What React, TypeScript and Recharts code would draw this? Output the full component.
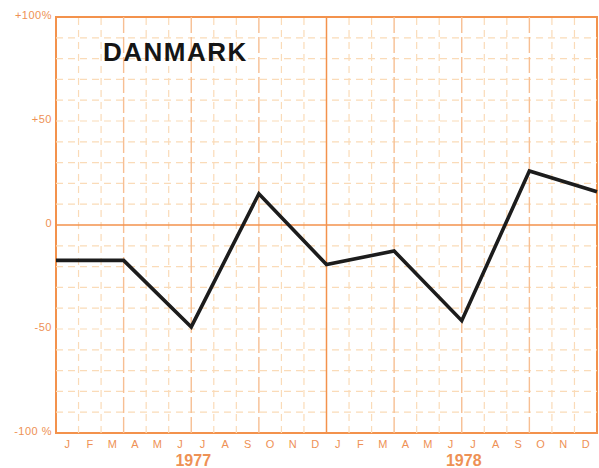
import React from 'react';
import {
  LineChart,
  Line,
  XAxis,
  YAxis,
  ReferenceLine,
  ReferenceArea
} from 'recharts';

// month positions of the plotted points (quarter boundaries, 0 = start of 1977)
const pointMonths = [0, 3, 6, 9, 12, 15, 18, 21, 24];
// change in %
const pointValues = [-17, -17, -49, 15, -19, -12.5, -46, 26, 16];

const monthLabels = [
  'J', 'F', 'M', 'A', 'M', 'J', 'J', 'A', 'S', 'O', 'N', 'D',
  'J', 'F', 'M', 'A', 'M', 'J', 'J', 'A', 'S', 'O', 'N', 'D'
];
const monthTickPos = [
  0.5, 1.5, 2.5, 3.5, 4.5, 5.5, 6.5, 7.5, 8.5, 9.5, 10.5, 11.5,
  12.5, 13.5, 14.5, 15.5, 16.5, 17.5, 18.5, 19.5, 20.5, 21.5, 22.5, 23.5
];
const yearLabels = ['1977', '1978'];
const yearTickPos = [6, 18];

const yTicks = [-100, -50, 0, 50, 100];
const yTickLabels = ['-100 %', '-50', '0', '+50', '+100%'];

const hGridLines = [-90, -80, -70, -60, -50, -40, -30, -20, -10, 10, 20, 30, 40, 50, 60, 70, 80, 90];
const monthGridLines = [1, 2, 4, 5, 7, 8, 10, 11, 13, 14, 16, 17, 19, 20, 22, 23];
const quarterGridLines = [3, 6, 9, 15, 18, 21];

const data = pointMonths.map((m, i) => ({ month: m, value: pointValues[i] }));

const ORANGE = '#f3924c';
const LABEL = '#ee9155';
const MINOR = '#fadbb8';
const QUARTER = '#f7bf93';

const YTick = (props: any) => {
  const { x, y, payload } = props;
  const idx = yTicks.indexOf(payload.value);
  return (
    <text x={x} y={y - 2.5} textAnchor="end" dominantBaseline="central"
      fill={LABEL} fontSize={11} fontFamily="'Liberation Sans', sans-serif" letterSpacing={0.5}>
      {yTickLabels[idx]}
    </text>
  );
};

const MonthTick = (props: any) => {
  const { x, y, payload } = props;
  const idx = Math.floor(payload.value);
  return (
    <text x={x} y={y + 11} textAnchor="middle" dominantBaseline="central"
      fill={LABEL} fontSize={11} fontFamily="'Liberation Sans', sans-serif">
      {monthLabels[idx]}
    </text>
  );
};

const YearTick = (props: any) => {
  const { x, y, payload } = props;
  const idx = yearTickPos.indexOf(payload.value);
  return (
    <text x={x + 2} y={y + 7} textAnchor="middle" dominantBaseline="central"
      fill={LABEL} fontSize={16} fontWeight="bold" fontFamily="'Liberation Sans', sans-serif">
      {yearLabels[idx]}
    </text>
  );
};

export default function App() {
  return (
    <div style={{ position: 'absolute', left: 0, top: 0, width: 599, height: 468, background: '#fff' }}>
      <LineChart width={599} height={468} data={data} margin={{ top: 17, right: 2, left: 0, bottom: 0 }}>
        <XAxis xAxisId="m" dataKey="month" type="number" domain={[0, 24]} ticks={monthTickPos}
          interval={0} axisLine={false} tickLine={false} tickSize={0} tickMargin={0} height={20}
          tick={<MonthTick />} />
        <XAxis xAxisId="yr" dataKey="month" type="number" domain={[0, 24]} ticks={yearTickPos}
          interval={0} axisLine={false} tickLine={false} tickSize={0} tickMargin={0} height={15}
          tick={<YearTick />} />
        <YAxis type="number" domain={[-100, 100]} ticks={yTicks} interval={0} width={56}
          axisLine={false} tickLine={false} tickSize={0} tickMargin={4} tick={<YTick />} />

        {hGridLines.map(v => (
          <ReferenceLine key={'h' + v} xAxisId="m" y={v} stroke={MINOR} strokeWidth={1.2} strokeDasharray="7 5" />
        ))}
        {monthGridLines.map(v => (
          <ReferenceLine key={'m' + v} xAxisId="m" x={v} stroke={MINOR} strokeWidth={1.2} strokeDasharray="7 5" />
        ))}
        {quarterGridLines.map(v => (
          <ReferenceLine key={'q' + v} xAxisId="m" x={v} stroke={QUARTER} strokeWidth={1.4} strokeDasharray="16 4" />
        ))}
        <ReferenceLine xAxisId="m" x={12} stroke={ORANGE} strokeWidth={1.5} />
        <ReferenceLine xAxisId="m" y={0} stroke={ORANGE} strokeWidth={1.5} />
        <ReferenceArea xAxisId="m" x1={0} x2={24} y1={-100} y2={100} fill="none" fillOpacity={0}
          stroke={ORANGE} strokeWidth={2} />

        <Line xAxisId="m" type="linear" dataKey="value" stroke="#1c1c1c" strokeWidth={3.6}
          strokeLinejoin="miter" dot={false} activeDot={false} isAnimationActive={false} />
      </LineChart>
      <svg width={599} height={468} style={{ position: 'absolute', left: 0, top: 0, pointerEvents: 'none' }}>
        <text x={103} y={61} fill="#151515" fontSize={26} fontWeight="bold"
          fontFamily="'Liberation Sans', sans-serif" letterSpacing={1.5}>
          DANMARK
        </text>
      </svg>
    </div>
  );
}
